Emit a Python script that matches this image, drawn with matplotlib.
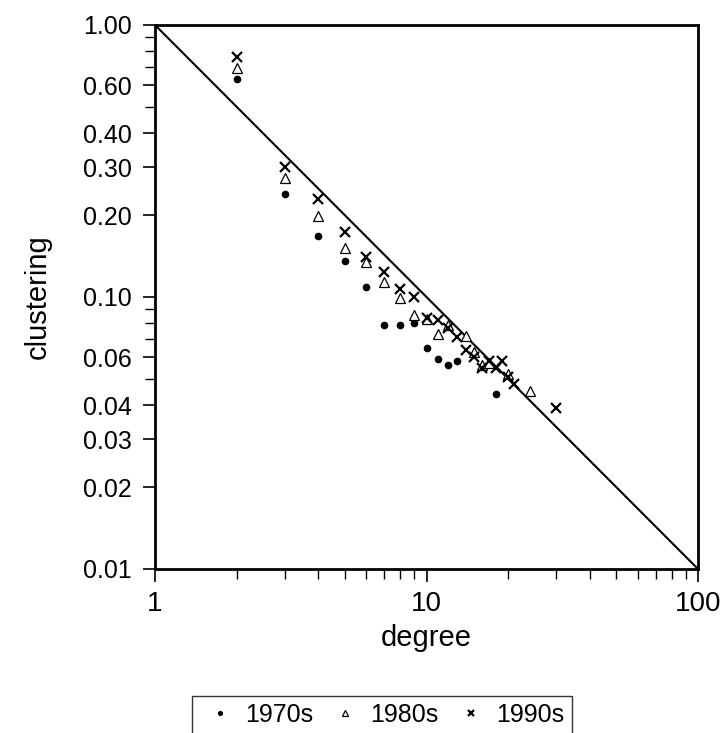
import numpy as np
import matplotlib.pyplot as plt
from matplotlib.ticker import FixedLocator, FixedFormatter, NullFormatter

plt.rcParams['font.family'] = ['Liberation Sans', 'DejaVu Sans']

# degree / clustering
deg_70 = [2, 3, 4, 5, 6, 7, 8, 9, 10, 11, 12, 13, 18]
clu_70 = [0.633, 0.240, 0.167, 0.136, 0.109, 0.079, 0.079, 0.080, 0.065, 0.059, 0.056, 0.058, 0.044]

deg_80 = [2, 3, 4, 5, 6, 7, 8, 9, 10, 11, 12, 14, 15, 16, 17, 20, 24]
clu_80 = [0.697, 0.273, 0.199, 0.151, 0.134, 0.114, 0.099, 0.086, 0.083, 0.073, 0.079, 0.072, 0.063,
          0.056, 0.057, 0.052, 0.045]

deg_90 = [2, 3, 4, 5, 6, 7, 8, 9, 10, 11, 12, 13, 14, 15, 16, 17, 18, 19, 20, 21, 30]
clu_90 = [0.761, 0.301, 0.230, 0.173, 0.140, 0.124, 0.107, 0.100, 0.084, 0.082, 0.077, 0.071, 0.064,
          0.060, 0.055, 0.058, 0.055, 0.058, 0.051, 0.048, 0.039]

ref_x = [1, 100]
ref_y = [1, 0.01]

y_ticks = [0.01, 0.02, 0.03, 0.04, 0.06, 0.10, 0.20, 0.30, 0.40, 0.60, 1.00]
y_minor = [0.05, 0.07, 0.08, 0.09, 0.5, 0.7, 0.8, 0.9]
x_ticks = [1, 10, 100]

fig = plt.figure(figsize=(7.24, 7.33), dpi=100)
ax = fig.add_axes([155/724, 1 - 569/733, (698 - 155)/724, (569 - 25)/733])

ax.plot(ref_x, ref_y, color='black', lw=1.5)
ax.plot(deg_70, clu_70, 'o', color='black', ms=4.5, ls='none', label='1970s')
ax.plot(deg_80, clu_80, '^', mfc='white', mec='black', mew=0.9, ms=6.5, ls='none', label='1980s')
ax.plot(deg_90, clu_90, 'x', color='black', mew=1.6, ms=7, ls='none', label='1990s')

ax.set_xscale('log')
ax.set_yscale('log')
ax.set_xlim(1, 100)
ax.set_ylim(0.01, 1)

ax.yaxis.set_major_locator(FixedLocator(y_ticks))
ax.yaxis.set_major_formatter(FixedFormatter(['%.2f' % v for v in y_ticks]))
ax.yaxis.set_minor_locator(FixedLocator(y_minor))
ax.yaxis.set_minor_formatter(NullFormatter())
ax.xaxis.set_major_locator(FixedLocator(x_ticks))
ax.xaxis.set_major_formatter(FixedFormatter([str(v) for v in x_ticks]))
ax.xaxis.set_minor_formatter(NullFormatter())

ax.tick_params(which='major', direction='out', length=9, width=1.2, top=False, right=False)
ax.tick_params(which='minor', direction='out', length=7, width=1.0, top=False, right=False)
ax.tick_params(axis='y', which='major', labelsize=18, pad=8)
ax.tick_params(axis='x', which='major', labelsize=20, pad=7)

for s in ax.spines.values():
    s.set_linewidth(2)

ax.set_xlabel('degree', fontsize=21, labelpad=5)
ax.set_ylabel('clustering', fontsize=21, labelpad=22)

leg = fig.legend(loc='upper center', bbox_to_anchor=(382/724, 1 - 683/733), ncol=3,
                 fontsize=18, frameon=True, fancybox=False, markerscale=0.6,
                 handletextpad=0.2, columnspacing=0.5, handlelength=1.6, borderpad=0.3)
leg.get_frame().set_edgecolor('black')
leg.get_frame().set_linewidth(1.0)

fig.savefig('out.png', dpi=100)
